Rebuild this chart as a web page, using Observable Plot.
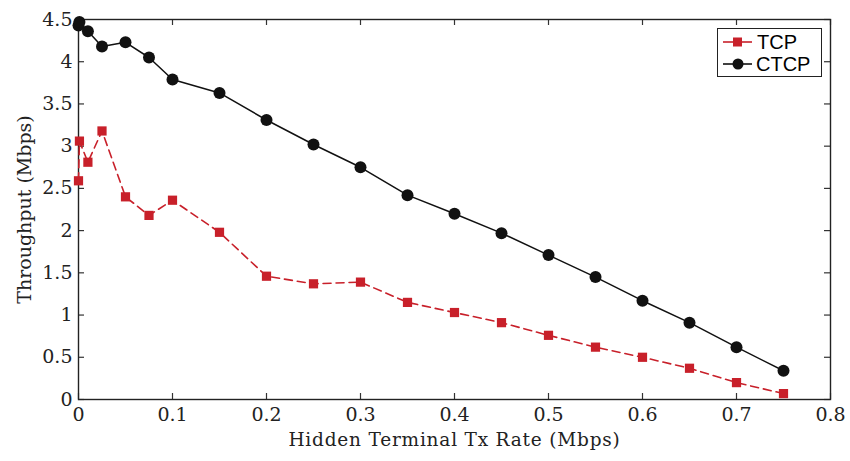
<!DOCTYPE html>
<html><head><meta charset="utf-8">
<script src="https://cdn.jsdelivr.net/npm/d3@7"></script>
<script src="https://cdn.jsdelivr.net/npm/@observablehq/plot@0.6"></script>
<style>
body{margin:0;background:#fff;}
#wrap{position:relative;width:850px;height:461px;}
#legend{position:absolute;left:717px;top:28px;width:103px;height:47px;border:1.3px solid #222;background:#fff;font-family:"Liberation Sans",Arial,sans-serif;font-size:20px;}
#legend .row{position:absolute;left:0;height:22px;display:flex;align-items:center;}
</style>
</head><body>
<div id="wrap"><div id="chart"></div>
<div id="legend">
 <div class="row" style="top:2px"><svg width="38" height="22"><line x1="5" y1="11" x2="34" y2="11" stroke="#c8202a" stroke-width="1.6"/><rect x="15" y="6.5" width="9" height="9" fill="#c8202a"/></svg><span style="margin-left:1px">TCP</span></div>
 <div class="row" style="top:24px"><svg width="38" height="22"><line x1="5" y1="11" x2="34" y2="11" stroke="#111" stroke-width="1.6"/><circle cx="20" cy="11" r="5.5" fill="#111"/></svg><span style="margin-left:0px">CTCP</span></div>
</div></div>
<script>
const xVals = [0, 0.001, 0.01, 0.025, 0.05, 0.075, 0.1, 0.15, 0.2, 0.25, 0.3, 0.35, 0.4, 0.45, 0.5, 0.55, 0.6, 0.65, 0.7, 0.75];
const tcp   = [2.59, 3.06, 2.81, 3.18, 2.40, 2.18, 2.36, 1.98, 1.46, 1.37, 1.39, 1.15, 1.03, 0.91, 0.76, 0.62, 0.50, 0.37, 0.20, 0.07];
const ctcp  = [4.43, 4.47, 4.36, 4.18, 4.23, 4.05, 3.79, 3.63, 3.31, 3.02, 2.75, 2.42, 2.20, 1.97, 1.71, 1.45, 1.17, 0.91, 0.62, 0.34];
const xTicks = [0, 0.1, 0.2, 0.3, 0.4, 0.5, 0.6, 0.7, 0.8];
const yTicks = [0, 0.5, 1, 1.5, 2, 2.5, 3, 3.5, 4, 4.5];
const xLabel = "Hidden Terminal Tx Rate (Mbps)";
const yLabel = "Throughput (Mbps)";

const tcpData = xVals.map((x, i) => ({x, y: tcp[i]}));
const ctcpData = xVals.map((x, i) => ({x, y: ctcp[i]}));

const W = 850, H = 461, mL = 78, mR = 20, mT = 19, mB = 62;
const pw = W - mL - mR, ph = H - mT - mB, tk = 6;
const red = "#c8202a";
const fmt = d => String(d);

const chart = Plot.plot({
  width: W, height: H,
  marginLeft: mL, marginRight: mR, marginTop: mT, marginBottom: mB,
  style: {fontFamily: "'DejaVu Serif', serif", fontSize: "19px", color: "#222", background: "#fff"},
  x: {domain: [0, 0.8]},
  y: {domain: [0, 4.5]},
  marks: [
    Plot.axisX(xTicks, {tickSize: 0, tickPadding: 8, tickFormat: fmt, label: null, fontSize: 19}),
    Plot.axisY(yTicks, {tickSize: 0, tickPadding: 6, tickFormat: fmt, label: null, fontSize: 19}),
    Plot.tickX(xTicks, {x: d => d, insetTop: ph - tk, stroke: "#333", strokeWidth: 1.2}),
    Plot.tickX(xTicks, {x: d => d, insetBottom: ph - tk, stroke: "#333", strokeWidth: 1.2}),
    Plot.tickY(yTicks, {y: d => d, insetRight: pw - tk, stroke: "#333", strokeWidth: 1.2}),
    Plot.tickY(yTicks, {y: d => d, insetLeft: pw - tk, stroke: "#333", strokeWidth: 1.2}),
    Plot.frame({stroke: "#222", strokeWidth: 1.4}),
    Plot.line(ctcpData, {x: "x", y: "y", stroke: "#111", strokeWidth: 1.5}),
    Plot.dot(ctcpData, {x: "x", y: "y", r: 6, fill: "#111", symbol: "circle"}),
    Plot.line(tcpData, {x: "x", y: "y", stroke: red, strokeWidth: 1.6, strokeDasharray: "8,5"}),
    Plot.dot(tcpData, {x: "x", y: "y", r: 5.2, fill: red, symbol: "square"}),
    Plot.text([xLabel], {frameAnchor: "bottom", dy: 41, lineAnchor: "middle", textAnchor: "middle", text: d => d, fontSize: 18.5, fill: "#222"}),
    Plot.text([yLabel], {frameAnchor: "left", dx: -54, rotate: -90, lineAnchor: "middle", textAnchor: "middle", text: d => d, fontSize: 19, fill: "#222"})
  ]
});
document.getElementById("chart").append(chart);
d3.select(chart).selectAll("text").filter(function() { return this.textContent === xLabel; })
  .attr("letter-spacing", "0.8px");
</script>
</body></html>
